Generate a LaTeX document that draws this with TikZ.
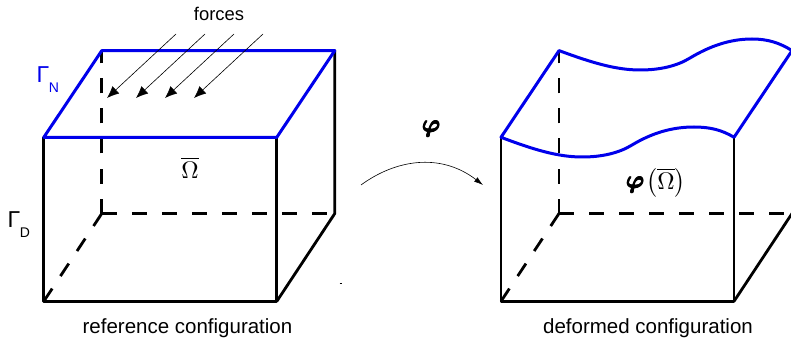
\documentclass[tikz,border=0pt]{standalone}
\usepackage{amsmath}
\usepackage{fontspec}
\usetikzlibrary{arrows.meta}
\newfontfamily\arialf{Liberation Sans}
\font\boldphifont=cmmib10 at 24pt
\newcommand{\phiglyph}{{\boldphifont\char"27}}
\newcommand{\boldphi}{\rlap{\phiglyph}\rlap{\raisebox{0.5pt}{\phiglyph}}\kern0.5pt\rlap{\phiglyph}\rlap{\raisebox{0.5pt}{\phiglyph}}\kern0.5pt\rlap{\phiglyph}\raisebox{0.5pt}{\phiglyph}}
\definecolor{surf}{RGB}{0,0,235}
\tikzset{
  edgeline/.style={line width=2.8pt,black,line join=round,line cap=round},
  hiddenline/.style={line width=2.8pt,black,dash pattern=on 15pt off 15pt},
  surfline/.style={line width=3pt,surf,line join=round,line cap=round},
  forcearrow/.style={line width=0.6pt,-{Latex[length=12pt,width=10pt]}},
  maparrow/.style={line width=0.6pt,-{Latex[length=9pt,width=5.5pt]}},
  caption/.style={font=\arialf\fontsize{20.5}{22}\selectfont,inner sep=0pt,black},
  forcetext/.style={font=\arialf\fontsize{18.4}{20}\selectfont,inner sep=0pt,black},
  bigsym/.style={font=\arialf\fontsize{23}{25}\selectfont,inner sep=0pt},
  subsym/.style={font=\arialf\fontsize{14}{16}\selectfont,inner sep=0pt},
  mathsym/.style={scale=2.4,inner sep=0pt},
  phisym/.style={inner sep=0pt},
}
\begin{document}
\begin{tikzpicture}[x=1pt,y=-1pt]
\useasboundingbox (0,0) rectangle (791,339);
% left box
\coordinate (LFTL) at (43.8,137.3);
\coordinate (LFTR) at (276.8,137.3);
\coordinate (LBTL) at (101.8,50.6);
\coordinate (LBTR) at (334.8,50.6);
\coordinate (LFBL) at (43.8,301.3);
\coordinate (LFBR) at (276.8,301.3);
\coordinate (LBBL) at (101.8,213.5);
\coordinate (LBBR) at (334.8,213.5);
\draw[hiddenline] (LBBL) -- (LBTL);
\draw[hiddenline] (LBBL) -- (LBBR);
\draw[hiddenline] (LBBL) -- (LFBL);
\draw[edgeline] (LFTL) -- (LFBL) -- (LFBR) -- (LFTR);
\draw[edgeline] (LFBR) -- (LBBR) -- (LBTR);
\draw[surfline] (LFTL) -- (LFTR) -- (LBTR) -- (LBTL) -- cycle;
% forces
\foreach \i/\sx/\ex in {1/176/107,2/205/136,3/234/165,4/263/194}{
  \coordinate (fs\i) at (\sx,34);
  \coordinate (fe\i) at (\ex,98);
  \draw[forcearrow] (fs\i) -- (fe\i);
}
% right box
\coordinate (RFTL) at (501,137.3);
\coordinate (RFTR) at (734,137.3);
\coordinate (RBTL) at (559,50.6);
\coordinate (RBTR) at (792,50.6);
\coordinate (RFBL) at (501,301.3);
\coordinate (RFBR) at (734,301.3);
\coordinate (RBBL) at (559,213.5);
\coordinate (RBBR) at (792,213.5);
\draw[hiddenline] (RBBL) -- (RBTL);
\draw[hiddenline] (RBBL) -- (RBBR);
\draw[hiddenline] (RBBL) -- (RFBL);
\draw[edgeline] (RFTL) -- (RFBL) -- (RFBR) -- (RFTR);
\draw[edgeline] (RFBR) -- (RBBR);
\draw[surfline] (RFTL) -- (RBTL)
  .. controls (590,62) and (615,70) .. (640,70)
  .. controls (660,70) and (677,66) .. (690,58)
  .. controls (710,46) and (730,39) .. (752,39)
  .. controls (768,39) and (780,43) .. (RBTR)
  -- (RFTR)
  .. controls (722,130) and (710,127) .. (694,127)
  .. controls (672,127) and (652,133) .. (632,145)
  .. controls (619,153) and (602,157) .. (582,157)
  .. controls (557,157) and (532,149) .. (RFTL) -- cycle;
% map arrow
\coordinate (ma) at (361,185);
\coordinate (mb) at (483,185);
\draw[maparrow] (ma) .. controls (395,160) and (440,152) .. (mb);
% stray mark
\coordinate (sa) at (339.5,283);
\coordinate (sb) at (341.5,283);
\draw[line width=0.7pt] (sa) -- (sb);
% labels
\node[forcetext] (forces) at (219,14) {forces};
\node[caption] (capL) at (187.5,328) {reference configuration};
\node[caption] (capR) at (648,328) {deformed configuration};
\node[bigsym,surf] (gn) at (43,75) {Γ};
\node[subsym,surf] (gnsub) at (54,88) {N};
\node[bigsym] (gd) at (14,220) {Γ};
\node[subsym] (gdsub) at (25,233) {D};
\node[mathsym] (om) at (190,168) {$\overline{\Omega}$};
\node[phisym] (phi) at (431,129) {\boldphi};
\node[phisym] (phiom) at (635,185) {\boldphi};
\node[mathsym] (omb) at (666,183) {$\left(\overline{\Omega}\right)$};
\end{tikzpicture}
\end{document}
